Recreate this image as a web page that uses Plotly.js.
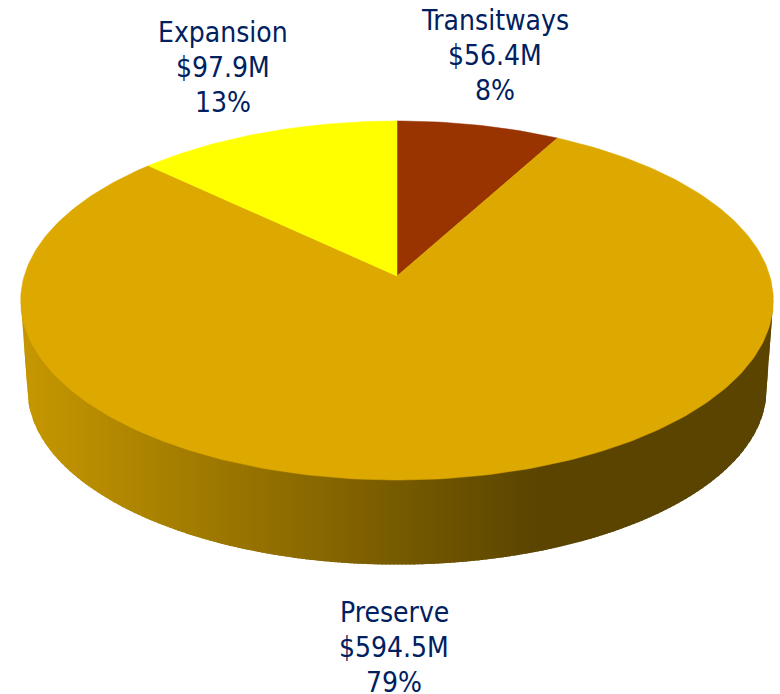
<!DOCTYPE html>
<html>
<head>
<meta charset="utf-8">
<script src="https://cdn.plot.ly/plotly-3.0.1.min.js"></script>
<style>html,body{margin:0;padding:0;background:#fff}#chart{width:780px;height:694px}</style>
</head>
<body>
<div id="chart"></div>
<script>
// Chart data
const categories = ["Transitways", "Preserve", "Expansion"];
const amounts = ["$56.4M", "$594.5M", "$97.9M"];
const shares = [8, 79, 13];

// Styling
const sliceColors = ["#993300", "#DDA900", "#FFFF00"];
const textColor = "#002060";
const labelFont = "'DejaVu Sans Condensed', 'DejaVu Sans', sans-serif";
const labelSize = 28;
const lineGap = 35;
const labelAnchors = [[495, 20], [394, 612], [223, 32]];

// Perspective pie geometry (in the plot's own pixel-like axis units)
const persp = 0.1365, cx = 397;
const topRim = {apexY: 276, a: 176.2, b: 372.8};
const botRim = {apexY: 366, a: 171.5, b: 366};

function project(rim, deg) {
  const t = deg * Math.PI / 180;
  const w = 1 + persp * Math.cos(t);
  return [cx + rim.b * Math.sin(t) / w, rim.apexY - rim.a * Math.cos(t) / w];
}
function wallColor(x) {
  const f = Math.min(1, Math.max(0, (x - 30) / (540 - 30)));
  const c = [196 + (90 - 196) * f, 150 + (68 - 150) * f, 0];
  return "rgb(" + c.map(Math.round).join(",") + ")";
}

// Lower outline of the wall, left to right: rim extreme, lower rim, rim extreme
const extremeDeg = Math.acos(-persp) * 180 / Math.PI;
const outline = [project(topRim, 360 - extremeDeg)];
for (let d = 360 - extremeDeg; d >= extremeDeg; d -= 1) outline.push(project(botRim, d));
outline.push(project(botRim, extremeDeg));
outline.push(project(topRim, extremeDeg));
function outlineY(x) {
  for (let i = 1; i < outline.length; i++) {
    if (x <= outline[i][0]) {
      const p = outline[i - 1], q = outline[i];
      const f = q[0] > p[0] ? (x - p[0]) / (q[0] - p[0]) : 0;
      return p[1] + (q[1] - p[1]) * f;
    }
  }
  return outline[outline.length - 1][1];
}

const traces = [];
// Side wall: vertical strips painted left to right, each overlapping the next
// so no seams show; the top face is painted over their upper ends
const stripWidth = 4, stripOverlap = 3;
const wallLeft = outline[0][0], wallRight = outline[outline.length - 1][0];
const wallTop = outline[0][1];
for (let x = wallLeft; x < wallRight; x += stripWidth) {
  const x1 = Math.min(wallRight, x + stripWidth + stripOverlap);
  const xs = [x], ys = [wallTop];
  for (let k = 0; k <= 7; k++) {
    const xk = x + (x1 - x) * k / 7;
    xs.push(xk); ys.push(outlineY(xk));
  }
  xs.push(x1, x); ys.push(wallTop, wallTop);
  const col = wallColor(x + stripWidth / 2);
  traces.push({
    type: "scatter", mode: "lines", fill: "toself", fillcolor: col,
    line: {color: col, width: 0}, hoverinfo: "skip", showlegend: false,
    x: xs, y: ys
  });
}
// Top face slices
const total = shares.reduce((a, b) => a + b, 0);
let start = 0;
shares.forEach((s, i) => {
  const sweep = s / total * 360;
  const xs = [cx], ys = [topRim.apexY];
  const n = Math.ceil(sweep);
  for (let k = 0; k <= n; k++) {
    const q = project(topRim, start + sweep * k / n);
    xs.push(q[0]); ys.push(q[1]);
  }
  xs.push(cx); ys.push(topRim.apexY);
  traces.push({
    type: "scatter", mode: "lines", fill: "toself", fillcolor: sliceColors[i],
    line: {color: sliceColors[i], width: 0.5}, name: categories[i],
    showlegend: false, hoverinfo: "name", x: xs, y: ys
  });
  start += sweep;
});

const annotations = [];
categories.forEach((c, i) => {
  [c, amounts[i], shares[i] + "%"].forEach((line, j) => {
    annotations.push({
      text: line,
      x: labelAnchors[i][0], y: labelAnchors[i][1] + j * lineGap, xref: "x", yref: "y",
      showarrow: false, align: "center", xanchor: "center", yanchor: "middle",
      borderpad: 0, font: {family: labelFont, size: labelSize, color: textColor}
    });
  });
});

const layout = {
  width: 780, height: 694,
  margin: {l: 0, r: 0, t: 0, b: 0},
  paper_bgcolor: "#ffffff", plot_bgcolor: "#ffffff",
  showlegend: false,
  xaxis: {range: [0, 780], visible: false, fixedrange: true},
  yaxis: {range: [694, 0], visible: false, fixedrange: true},
  annotations: annotations
};
Plotly.newPlot("chart", traces, layout, {displayModeBar: false, staticPlot: true});
</script>
</body>
</html>
